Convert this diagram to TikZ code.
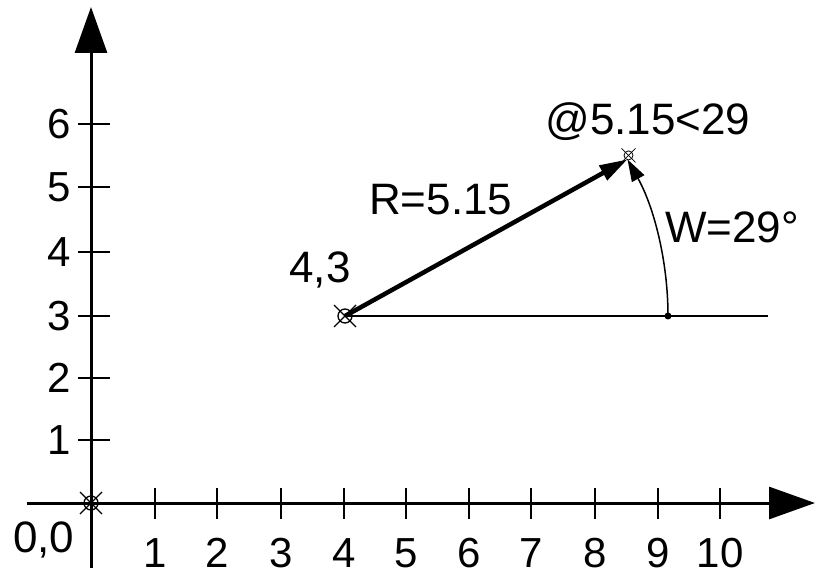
\documentclass[tikz,border=0pt]{standalone}
\usepackage{fontspec}
\setmainfont{Liberation Sans}
\usetikzlibrary{arrows.meta,calc}
\begin{document}
\begin{tikzpicture}[x=1pt,y=-1pt,
  axis/.style={line width=3pt,-{Triangle[length=46pt,width=32pt]}},
  tick/.style={line width=2pt},
  vec/.style={line width=4.5pt,-{Triangle[length=28pt,width=16pt]}},
  anglearc/.style={line width=1.5pt,-{Triangle[length=22pt,width=14pt]}},
  base/.style={line width=2pt},
  lbl/.style={font=\fontsize{44}{48}\selectfont,inner sep=0pt},
  ticklbl/.style={font=\fontsize{42}{48}\selectfont,inner sep=0pt},
  pmark/.style={line width=1.3pt}]
\useasboundingbox (0,0) rectangle (825,577);
% key points
\coordinate (O) at (91,503);
\coordinate (P) at (345,316);
\coordinate (Q) at (627.5,159.4);
\coordinate (D) at (668,316);
\coordinate (BE) at (768,316);
\coordinate (YS) at (91,568);
\coordinate (YE) at (91,7);
\coordinate (XS) at (27,503);
\coordinate (XE) at (815,503);
% axes
\draw[axis] (YS) -- (YE);
\draw[axis] (XS) -- (XE);
% y ticks
\foreach \v/\yy in {1/440,2/378,3/316,4/252,5/187,6/124}{
  \draw[tick] (78,\yy) -- (110,\yy);
  \node[ticklbl,anchor=east] (ly\v) at (71,\yy) {\v};
}
% x ticks
\foreach \v/\xx in {1/155,2/217,3/281,4/344,5/406,6/469,7/531,8/595,9/658,10/720}{
  \draw[tick] (\xx,488) -- (\xx,519);
  \node[ticklbl,anchor=base] (lx\v) at (\xx,567) {\v};
}
% origin marker
\draw[pmark] (O) circle (7);
\draw[pmark] ($(O)+(-11,-11)$) -- ($(O)+(11,11)$);
\draw[pmark] ($(O)+(-11,11)$) -- ($(O)+(11,-11)$);
\node[lbl,anchor=base west] (l00) at (13,552) {0,0};
% baseline
\draw[base] (P) -- (BE);
\fill (D) circle (3.5);
% vector
\draw[vec] (P) -- (Q);
% angle arc
\draw[anglearc] (D) arc[start angle=0,end angle=-29,radius=323];
% point markers
\draw[pmark] (P) circle (7);
\draw[pmark] ($(P)+(-11,-11)$) -- ($(P)+(11,11)$);
\draw[pmark] ($(P)+(-11,11)$) -- ($(P)+(11,-11)$);
\draw[line width=0.8pt] ($(Q)+(1,-4)$) circle (4.5);
\draw[line width=0.8pt] ($(Q)+(-6,-11)$) -- ($(Q)+(8,3)$);
\draw[line width=0.8pt] ($(Q)+(-6,3)$) -- ($(Q)+(8,-11)$);
% labels
\node[lbl,anchor=base] (l43) at (320,283) {4,3};
\node[lbl,anchor=base west] (lR) at (369,215) {R=5.15};
\node[lbl,anchor=base] (lat) at (648,135) {@5.15<29};
\node[lbl,anchor=base west] (lW) at (665,243) {W=29°};
\end{tikzpicture}
\end{document}
